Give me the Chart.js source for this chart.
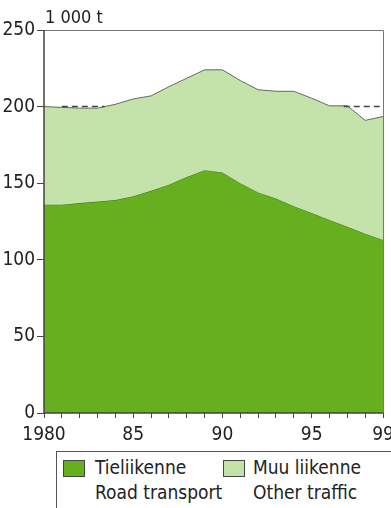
<!DOCTYPE html>
<html>
<head>
<meta charset="utf-8">
<script src="https://cdn.jsdelivr.net/npm/chart.js@4"></script>
<style>
  html,body{margin:0;padding:0;background:#fff;}
  body{width:391px;height:508px;position:relative;overflow:hidden;font-family:"Liberation Sans Narrow","DejaVu Sans Condensed","Liberation Sans",Arial,sans-serif;color:#222;}
  #c{position:absolute;left:0;top:0;}
  #unit{position:absolute;left:45px;top:6px;font-size:18px;}
  #legend{position:absolute;left:56px;top:451px;width:340px;height:60px;border:1.5px solid #555;box-sizing:border-box;font-size:19px;line-height:25px;}
  .item{position:absolute;top:3px;}
  .sw{position:absolute;top:5px;width:20px;height:15px;border:1.5px solid #444;}
  .txt{position:absolute;top:0;white-space:nowrap;}
</style>
</head>
<body>
<canvas id="c" width="391" height="450"></canvas>
<div id="unit">1 000 t</div>
<div id="legend">
  <div class="item" style="left:6px"><div class="sw" style="background:#66b01f"></div><div class="txt" style="left:32px">Tieliikenne<br>Road transport</div></div>
  <div class="item" style="left:166px"><div class="sw" style="background:#c4e3aa"></div><div class="txt" style="left:30px">Muu liikenne<br>Other traffic</div></div>
</div>
<script>
/* ---------- data ---------- */
const years = [1980,1981,1982,1983,1984,1985,1986,1987,1988,1989,1990,1991,1992,1993,1994,1995,1996,1997,1998,1999];
const road  = [136,136,137,138,139,141.5,145,149,154,158.5,157,150,144,140,135,130.5,126,121.5,117,113];
const total = [200,199.5,199,199,201.5,205,207,213,218.5,224,224,217,211,210,210,205.5,200.5,200.5,191,193.5];
const refX  = [1981,1983.4,null,1996.8,1999];
const refY  = [200,200,null,200,200];
const xLabels = {1980:'1980',1985:'85',1990:'90',1995:'95',1999:'99'};
const yTicks = [0,50,100,150,200,250];

const FONT = '"Liberation Sans Narrow","DejaVu Sans Condensed","Liberation Sans",Arial,sans-serif';
const pts = (xs,ys)=>xs.map((x,i)=>({x:x===null?(xs[i-1]+0.1):x,y:ys[i]}));

/* frame round the plot */
const frame = {
  id:'frame',
  afterDatasetsDraw(ch){
    const a=ch.chartArea, c=ch.ctx;
    c.save();
    c.strokeStyle='#777'; c.lineWidth=1;
    c.beginPath(); c.moveTo(a.left,a.top+0.5); c.lineTo(a.right+0.5,a.top+0.5); c.lineTo(a.right+0.5,a.bottom); c.stroke();
    c.strokeStyle='#444'; c.lineWidth=1.5;
    c.beginPath(); c.moveTo(a.left,a.top); c.lineTo(a.left,a.bottom); c.lineTo(a.right,a.bottom); c.stroke();
    c.restore();
  }
};

new Chart(document.getElementById('c'), {
  type:'line',
  data:{
    datasets:[
      { label:'Tieliikenne', data:pts(years,road), fill:'origin', backgroundColor:'#66b01f',
        borderColor:'#3d6b22', borderWidth:1, pointRadius:0, tension:0, order:3 },
      { label:'Muu liikenne', data:pts(years,total), fill:'-1', backgroundColor:'#c4e3aa',
        borderColor:'#666', borderWidth:1, pointRadius:0, tension:0, order:2 },
      { label:'ref', data:pts(refX,refY), fill:false, borderColor:'#444', borderWidth:1.5,
        borderDash:[6,4], pointRadius:0, spanGaps:false, order:1 }
    ]
  },
  options:{
    responsive:false, animation:false,
    devicePixelRatio:1,
    layout:{padding:{top:30,right:8,left:0,bottom:0}},
    plugins:{legend:{display:false},tooltip:{enabled:false}},
    scales:{
      x:{ type:'linear', min:1980, max:1999,
          afterBuildTicks:s=>{ s.ticks=years.map(v=>({value:v})); },
          afterFit:s=>{ s.height=37; s.paddingLeft=0; s.paddingRight=0; },
          grid:{drawOnChartArea:false, drawTicks:true, tickLength:5, color:'#444'},
          border:{display:false},
          ticks:{ autoSkip:false, maxRotation:0, padding:6, color:'#222',
                  font:{family:FONT,size:19}, callback:v=>xLabels[v]||'' } },
      y:{ min:0, max:250,
          afterBuildTicks:s=>{ s.ticks=yTicks.map(v=>({value:v})); },
          afterFit:s=>{ s.width=44; s.paddingTop=0; s.paddingBottom=0; },
          grid:{drawOnChartArea:false, drawTicks:true, tickLength:7, color:'#444'},
          border:{display:false},
          ticks:{ padding:2, color:'#222', font:{family:FONT,size:19} } }
    }
  },
  plugins:[frame]
});
</script>
</body>
</html>
